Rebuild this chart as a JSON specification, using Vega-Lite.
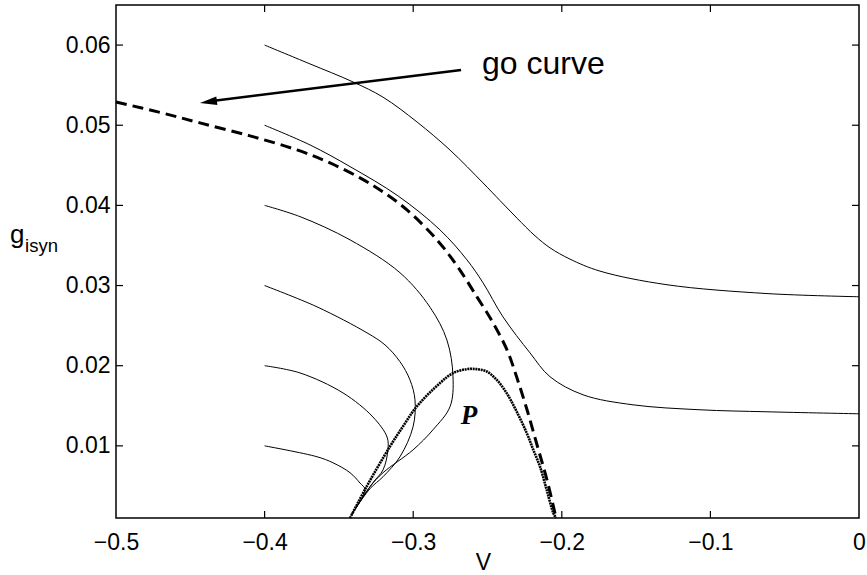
{
  "$schema": "https://vega.github.io/schema/vega-lite/v6.json",
  "width": 743,
  "height": 513,
  "autosize": "none",
  "padding": {"left": 116, "top": 5, "right": 8, "bottom": 57},
  "background": "white",
  "config": {
    "view": {"stroke": "black", "strokeWidth": 1.5},
    "font": "Liberation Sans"
  },
  "datasets": {
    "traj": [
      {"c": "A", "i": 0, "V": -0.4, "g": 0.0600},
      {"c": "A", "i": 1, "V": -0.3701, "g": 0.0577},
      {"c": "A", "i": 2, "V": -0.3405, "g": 0.0554},
      {"c": "A", "i": 3, "V": -0.3203, "g": 0.0535},
      {"c": "A", "i": 4, "V": -0.2974, "g": 0.0504},
      {"c": "A", "i": 5, "V": -0.2752, "g": 0.0469},
      {"c": "A", "i": 6, "V": -0.2530, "g": 0.0428},
      {"c": "A", "i": 7, "V": -0.2416, "g": 0.0406},
      {"c": "A", "i": 8, "V": -0.2301, "g": 0.0384},
      {"c": "A", "i": 9, "V": -0.2180, "g": 0.0362},
      {"c": "A", "i": 10, "V": -0.2079, "g": 0.0347},
      {"c": "A", "i": 11, "V": -0.1945, "g": 0.0333},
      {"c": "A", "i": 12, "V": -0.1743, "g": 0.0318},
      {"c": "A", "i": 13, "V": -0.1292, "g": 0.0301},
      {"c": "A", "i": 14, "V": -0.0619, "g": 0.0290},
      {"c": "A", "i": 15, "V": 0.0, "g": 0.0286},
      {"c": "B", "i": 0, "V": -0.4, "g": 0.0500},
      {"c": "B", "i": 1, "V": -0.3694, "g": 0.04754},
      {"c": "B", "i": 2, "V": -0.3425, "g": 0.04484},
      {"c": "B", "i": 3, "V": -0.3102, "g": 0.04118},
      {"c": "B", "i": 4, "V": -0.2820, "g": 0.03695},
      {"c": "B", "i": 5, "V": -0.2638, "g": 0.0332},
      {"c": "B", "i": 6, "V": -0.2530, "g": 0.03034},
      {"c": "B", "i": 7, "V": -0.2396, "g": 0.0261},
      {"c": "B", "i": 8, "V": -0.2214, "g": 0.0216},
      {"c": "B", "i": 9, "V": -0.2079, "g": 0.01862},
      {"c": "B", "i": 10, "V": -0.1857, "g": 0.01637},
      {"c": "B", "i": 11, "V": -0.1521, "g": 0.01512},
      {"c": "B", "i": 12, "V": -0.1070, "g": 0.0145},
      {"c": "B", "i": 13, "V": -0.0619, "g": 0.01425},
      {"c": "B", "i": 14, "V": 0.0, "g": 0.0140},
      {"c": "C", "i": 0, "V": -0.4, "g": 0.0400},
      {"c": "C", "i": 1, "V": -0.3762, "g": 0.0386},
      {"c": "C", "i": 2, "V": -0.3425, "g": 0.0357},
      {"c": "C", "i": 3, "V": -0.3089, "g": 0.0316},
      {"c": "C", "i": 4, "V": -0.2887, "g": 0.0273},
      {"c": "C", "i": 5, "V": -0.2773, "g": 0.0232},
      {"c": "C", "i": 6, "V": -0.2732, "g": 0.0186},
      {"c": "C", "i": 7, "V": -0.2752, "g": 0.0149},
      {"c": "C", "i": 8, "V": -0.2867, "g": 0.0120},
      {"c": "C", "i": 9, "V": -0.3001, "g": 0.0095},
      {"c": "C", "i": 10, "V": -0.3203, "g": 0.00665},
      {"c": "C", "i": 11, "V": -0.3291, "g": 0.0049},
      {"c": "C", "i": 12, "V": -0.3412, "g": 0.0015},
      {"c": "D", "i": 0, "V": -0.4, "g": 0.0300},
      {"c": "D", "i": 1, "V": -0.3647, "g": 0.02734},
      {"c": "D", "i": 2, "V": -0.3311, "g": 0.0241},
      {"c": "D", "i": 3, "V": -0.3190, "g": 0.0226},
      {"c": "D", "i": 4, "V": -0.3089, "g": 0.0205},
      {"c": "D", "i": 5, "V": -0.3022, "g": 0.01824},
      {"c": "D", "i": 6, "V": -0.2988, "g": 0.01575},
      {"c": "D", "i": 7, "V": -0.3001, "g": 0.01238},
      {"c": "D", "i": 8, "V": -0.3089, "g": 0.00864},
      {"c": "D", "i": 9, "V": -0.3203, "g": 0.00615},
      {"c": "D", "i": 10, "V": -0.3291, "g": 0.00465},
      {"c": "D", "i": 11, "V": -0.3412, "g": 0.00153},
      {"c": "E", "i": 0, "V": -0.4, "g": 0.0200},
      {"c": "E", "i": 1, "V": -0.3762, "g": 0.0191},
      {"c": "E", "i": 2, "V": -0.3472, "g": 0.0166},
      {"c": "E", "i": 3, "V": -0.3271, "g": 0.0136},
      {"c": "E", "i": 4, "V": -0.3176, "g": 0.0111},
      {"c": "E", "i": 5, "V": -0.3170, "g": 0.0095},
      {"c": "E", "i": 6, "V": -0.3203, "g": 0.0070},
      {"c": "E", "i": 7, "V": -0.3271, "g": 0.0054},
      {"c": "E", "i": 8, "V": -0.3412, "g": 0.0015},
      {"c": "F", "i": 0, "V": -0.4, "g": 0.0100},
      {"c": "F", "i": 1, "V": -0.3647, "g": 0.00864},
      {"c": "F", "i": 2, "V": -0.3540, "g": 0.00789},
      {"c": "F", "i": 3, "V": -0.3425, "g": 0.00665},
      {"c": "F", "i": 4, "V": -0.3358, "g": 0.00536},
      {"c": "F", "i": 5, "V": -0.3324, "g": 0.00453},
      {"c": "F", "i": 6, "V": -0.3412, "g": 0.00153}
    ],
    "go": [
      {"i": 0, "V": -0.5, "g": 0.0529},
      {"i": 1, "V": -0.4704, "g": 0.05160},
      {"i": 2, "V": -0.4435, "g": 0.05029},
      {"i": 3, "V": -0.4098, "g": 0.04867},
      {"i": 4, "V": -0.3782, "g": 0.04692},
      {"i": 5, "V": -0.3560, "g": 0.04530},
      {"i": 6, "V": -0.3358, "g": 0.04343},
      {"i": 7, "V": -0.3223, "g": 0.04193},
      {"i": 8, "V": -0.3042, "g": 0.03944},
      {"i": 9, "V": -0.2840, "g": 0.03570},
      {"i": 10, "V": -0.2705, "g": 0.03246},
      {"i": 11, "V": -0.2571, "g": 0.02859},
      {"i": 12, "V": -0.2463, "g": 0.02535},
      {"i": 13, "V": -0.2369, "g": 0.02198},
      {"i": 14, "V": -0.2302, "g": 0.01849},
      {"i": 15, "V": -0.2234, "g": 0.01450},
      {"i": 16, "V": -0.2167, "g": 0.01014},
      {"i": 17, "V": -0.2100, "g": 0.00577},
      {"i": 18, "V": -0.2039, "g": 0.00104}
    ],
    "p": [
      {"i": 0, "V": -0.3425, "g": 0.0010},
      {"i": 1, "V": -0.3313, "g": 0.00494},
      {"i": 2, "V": -0.3156, "g": 0.00993},
      {"i": 3, "V": -0.3069, "g": 0.01242},
      {"i": 4, "V": -0.2976, "g": 0.01491},
      {"i": 5, "V": -0.2820, "g": 0.01783},
      {"i": 6, "V": -0.2732, "g": 0.01908},
      {"i": 7, "V": -0.2640, "g": 0.01957},
      {"i": 8, "V": -0.2573, "g": 0.01957},
      {"i": 9, "V": -0.2505, "g": 0.01928},
      {"i": 10, "V": -0.2438, "g": 0.01824},
      {"i": 11, "V": -0.2371, "g": 0.01658},
      {"i": 12, "V": -0.2304, "g": 0.01429},
      {"i": 13, "V": -0.2236, "g": 0.01160},
      {"i": 14, "V": -0.2192, "g": 0.00951},
      {"i": 15, "V": -0.2147, "g": 0.00743},
      {"i": 16, "V": -0.2102, "g": 0.00453},
      {"i": 17, "V": -0.2057, "g": 0.00162},
      {"i": 18, "V": -0.2039, "g": 0.0010}
    ],
    "arrow": [
      {"i": 0, "V": -0.2678, "g": 0.0569},
      {"i": 1, "V": -0.4380, "g": 0.05296}
    ],
    "head": [
      {"V": -0.4435, "g": 0.05278}
    ],
    "ticks": [
      {"V": -0.4, "V2": -0.4, "g": 0.001, "g2": 0.00187},
      {"V": -0.3, "V2": -0.3, "g": 0.001, "g2": 0.00187},
      {"V": -0.2, "V2": -0.2, "g": 0.001, "g2": 0.00187},
      {"V": -0.1, "V2": -0.1, "g": 0.001, "g2": 0.00187},
      {"V": -0.4, "V2": -0.4, "g": 0.065, "g2": 0.06413},
      {"V": -0.3, "V2": -0.3, "g": 0.065, "g2": 0.06413},
      {"V": -0.2, "V2": -0.2, "g": 0.065, "g2": 0.06413},
      {"V": -0.1, "V2": -0.1, "g": 0.065, "g2": 0.06413},
      {"V": -0.5, "V2": -0.4953, "g": 0.01, "g2": 0.01},
      {"V": -0.5, "V2": -0.4953, "g": 0.02, "g2": 0.02},
      {"V": -0.5, "V2": -0.4953, "g": 0.03, "g2": 0.03},
      {"V": -0.5, "V2": -0.4953, "g": 0.04, "g2": 0.04},
      {"V": -0.5, "V2": -0.4953, "g": 0.05, "g2": 0.05},
      {"V": -0.5, "V2": -0.4953, "g": 0.06, "g2": 0.06},
      {"V": 0, "V2": -0.0047, "g": 0.01, "g2": 0.01},
      {"V": 0, "V2": -0.0047, "g": 0.02, "g2": 0.02},
      {"V": 0, "V2": -0.0047, "g": 0.03, "g2": 0.03},
      {"V": 0, "V2": -0.0047, "g": 0.04, "g2": 0.04},
      {"V": 0, "V2": -0.0047, "g": 0.05, "g2": 0.05},
      {"V": 0, "V2": -0.0047, "g": 0.06, "g2": 0.06}
    ]
  },
  "layer": [
    {
      "data": {"name": "traj"},
      "mark": {"type": "line", "color": "black", "strokeWidth": 1, "interpolate": "catmull-rom"},
      "encoding": {
        "x": {"field": "V", "type": "quantitative",
              "scale": {"domain": [-0.5, 0], "nice": false, "zero": false},
              "axis": {"orient": "bottom", "values": [-0.5, -0.4, -0.3, -0.2, -0.1, 0], "format": ".1~f",
                       "grid": false, "domain": false, "ticks": false,
                       "labelFlush": false, "labelOverlap": false, "labelFont": "Liberation Sans", "labelFontSize": 23, "labelColor": "black", "labelPadding": 13,
                       "title": "V", "titleFont": "Liberation Sans", "titleFontSize": 23, "titleFontWeight": "normal", "titleColor": "black", "titleX": 367, "titleY": 33, "titleBaseline": "top"}},
        "y": {"field": "g", "type": "quantitative",
              "scale": {"domain": [0.001, 0.065], "nice": false, "zero": false},
              "axis": {"orient": "left", "values": [0.01, 0.02, 0.03, 0.04, 0.05, 0.06], "format": ".2f",
                       "grid": false, "domain": false, "ticks": false,
                       "labelFlush": false, "labelOverlap": false, "labelFont": "Liberation Sans", "labelFontSize": 23, "labelColor": "black", "labelPadding": 6,
                       "title": null}},
        "detail": {"field": "c"},
        "order": {"field": "i", "type": "quantitative"}
      }
    },
    {
      "data": {"name": "ticks"},
      "mark": {"type": "rule", "color": "black", "strokeWidth": 1.2, "opacity": 1},
      "encoding": {
        "x": {"field": "V", "type": "quantitative"},
        "x2": {"field": "V2"},
        "y": {"field": "g", "type": "quantitative"},
        "y2": {"field": "g2"}
      }
    },
    {
      "data": {"name": "go"},
      "mark": {"type": "line", "color": "black", "strokeWidth": 3, "strokeDash": [11, 6], "interpolate": "catmull-rom"},
      "encoding": {
        "x": {"field": "V", "type": "quantitative"},
        "y": {"field": "g", "type": "quantitative"},
        "order": {"field": "i", "type": "quantitative"}
      }
    },
    {
      "data": {"name": "p"},
      "mark": {"type": "line", "color": "black", "strokeWidth": 2.6, "strokeDash": [2, 0.7], "interpolate": "catmull-rom"},
      "encoding": {
        "x": {"field": "V", "type": "quantitative"},
        "y": {"field": "g", "type": "quantitative"},
        "order": {"field": "i", "type": "quantitative"}
      }
    },
    {
      "data": {"name": "arrow"},
      "mark": {"type": "line", "color": "black", "strokeWidth": 2.5},
      "encoding": {
        "x": {"field": "V", "type": "quantitative"},
        "y": {"field": "g", "type": "quantitative"},
        "order": {"field": "i", "type": "quantitative"}
      }
    },
    {
      "data": {"name": "head"},
      "mark": {"type": "point", "shape": "M 0 0 L 2 -0.5 L 2 0.5 Z", "size": 289, "angle": 352.8, "filled": true, "color": "black", "opacity": 1},
      "encoding": {
        "x": {"field": "V", "type": "quantitative"},
        "y": {"field": "g", "type": "quantitative"}
      }
    },
    {
      "data": {"values": [{"V": -0.2537, "g": 0.0564, "t": "go curve"}]},
      "mark": {"type": "text", "font": "Liberation Sans", "fontSize": 32, "align": "left", "baseline": "alphabetic", "color": "black"},
      "encoding": {
        "x": {"field": "V", "type": "quantitative"},
        "y": {"field": "g", "type": "quantitative"},
        "text": {"field": "t"}
      }
    },
    {
      "data": {"values": [{"V": -0.2625, "g": 0.0137, "t": "P"}]},
      "mark": {"type": "text", "font": "Liberation Serif", "fontSize": 27, "fontWeight": "bold", "fontStyle": "italic", "align": "center", "baseline": "middle", "color": "black"},
      "encoding": {
        "x": {"field": "V", "type": "quantitative"},
        "y": {"field": "g", "type": "quantitative"},
        "text": {"field": "t"}
      }
    },
    {
      "data": {"values": [{"V": -0.5713, "g": 0.03526, "t": "g"}]},
      "mark": {"type": "text", "font": "Liberation Sans", "fontSize": 26, "align": "left", "baseline": "alphabetic", "color": "black"},
      "encoding": {
        "x": {"field": "V", "type": "quantitative"},
        "y": {"field": "g", "type": "quantitative"},
        "text": {"field": "t"}
      }
    },
    {
      "data": {"values": [{"V": -0.5612, "g": 0.03416, "t": "isyn"}]},
      "mark": {"type": "text", "font": "Liberation Sans", "fontSize": 18.5, "align": "left", "baseline": "alphabetic", "color": "black"},
      "encoding": {
        "x": {"field": "V", "type": "quantitative"},
        "y": {"field": "g", "type": "quantitative"},
        "text": {"field": "t"}
      }
    }
  ]
}
